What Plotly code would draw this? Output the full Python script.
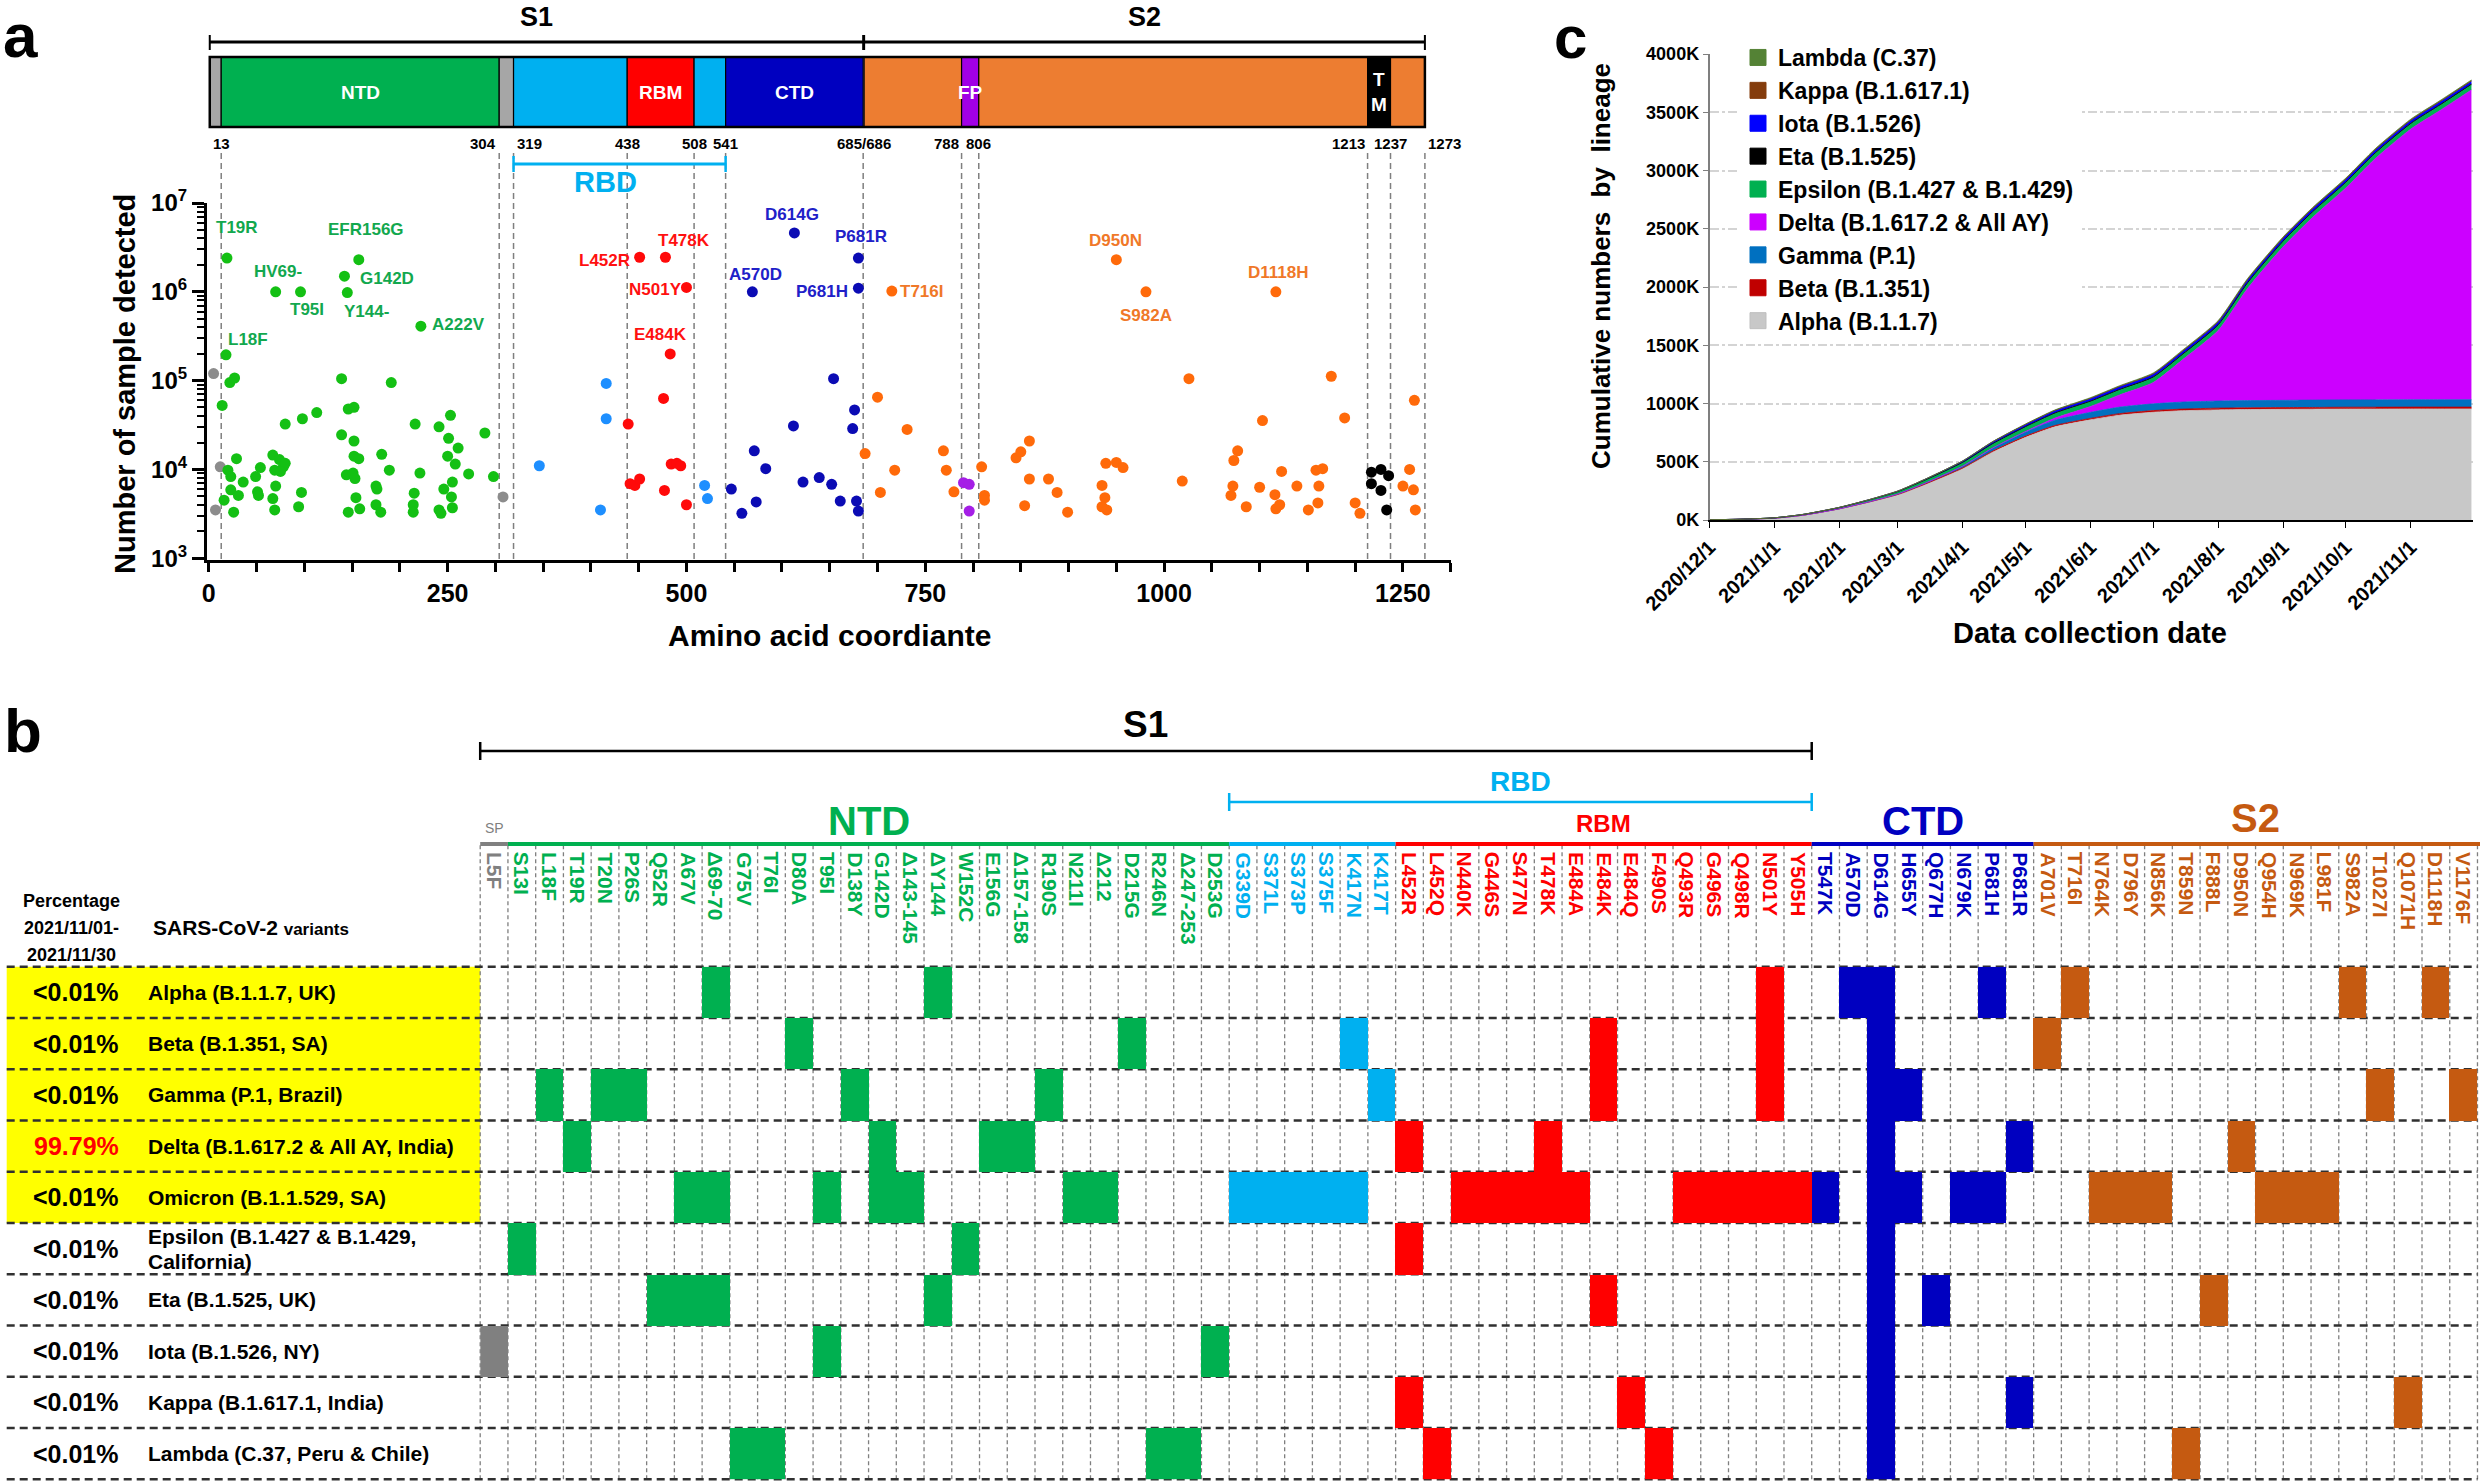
import math
import plotly.graph_objects as go

W, H = 2480, 1481
def X(px): return px / W
def Y(py): return 1 - py / H

SANS = "Liberation Sans, Arial, sans-serif"

# ====================== Panel a data ======================
domain_start = [1, 13, 304, 319, 438, 508, 541, 686, 788, 806, 1213, 1237]
domain_end   = [13, 304, 319, 438, 508, 541, 685, 788, 806, 1213, 1237, 1273]
domain_kind  = ["SP", "NTD", "SP", "RBD", "RBM", "RBD", "CTD", "S2", "FP", "S2", "TM", "S2"]
domain_label = ["", "NTD", "", "", "RBM", "", "CTD", "", "FP", "", "T<br>M", ""]
boundary_pos  = [13, 304, 319, 438, 508, 541, 685.5, 788, 806, 1213, 1237, 1273]
boundary_text = ["13", "304", "319", "438", "508", "541", "685/686", "788", "806", "1213", "1237", "1273"]
subunit_name  = ["S1", "S2"]
subunit_start = [1, 686]
subunit_end   = [685, 1273]
rbd_span = [319, 541]

sp_pos = [5, 12, 7, 308]
sp_cnt = [1.2e5, 1.07e4, 3.5e3, 4.9e3]
ntd_pos = [19, 18, 70, 96, 142, 145, 157, 222, 22, 27, 14, 16, 20, 23, 29, 23, 31, 26, 36, 49,
           54, 51, 52, 67, 69, 70, 67, 69, 74, 78, 80, 75, 80, 98, 113, 94, 97, 139, 146, 152,
           139, 152, 152, 157, 144, 151, 153, 154, 146, 158, 181, 175, 176, 175, 180, 191, 189,
           216, 215, 214, 214, 221, 241, 241, 243, 246, 253, 251, 250, 255, 254, 255, 258, 261,
           272, 289, 298]
ntd_cnt = [2.4e6, 1.95e5, 1.0e6, 1.0e6, 1.5e6, 9.8e5, 2.3e6, 4.1e5, 9.5e4, 1.07e5, 5.25e4, 4.5e3,
           9.8e3, 8.3e3, 1.32e4, 5.9e3, 5.1e3, 3.3e3, 7.2e3, 8.3e3, 1.05e4, 5.6e3, 5.1e3, 1.45e4,
           9.8e3, 6.5e3, 4.7e3, 3.5e3, 1.29e4, 1.07e4, 1.17e4, 9.5e3, 3.24e4, 3.72e4, 4.37e4, 3.8e3,
           5.5e3, 1.05e5, 4.79e4, 5.0e4, 2.45e4, 2.09e4, 1.41e4, 1.32e4, 8.7e3, 9.1e3, 7.9e3, 4.8e3,
           3.3e3, 3.6e3, 1.48e4, 6.5e3, 6.0e3, 4.0e3, 3.3e3, 9.5e4, 9.8e3, 3.24e4, 5.4e3, 4.0e3,
           3.3e3, 9.1e3, 3.02e4, 3.5e3, 3.2e3, 6.0e3, 4.07e4, 2.24e4, 1.41e4, 7.2e3, 4.9e3, 3.7e3,
           1.15e4, 1.74e4, 8.9e3, 2.57e4, 8.3e3]
rbd_pos = [346, 416, 416, 410, 519, 522]
rbd_cnt = [1.1e4, 9.3e4, 3.72e4, 3.5e3, 6.6e3, 4.7e3]
rbm_pos = [451, 478, 500, 483, 439, 476, 441, 446, 451, 477, 484, 490, 494, 500]
rbm_cnt = [2.45e6, 2.45e6, 1.12e6, 2.0e5, 3.24e4, 6.3e4, 6.9e3, 6.6e3, 7.8e3, 5.8e3, 1.15e4,
           1.17e4, 1.1e4, 4.0e3]
ctd_pos = [613, 680, 680, 569, 654, 676, 674, 612, 571, 583, 547, 558, 573, 622, 639, 652, 661, 678, 680]
ctd_cnt = [4.6e6, 2.4e6, 1.1e6, 1.0e6, 1.05e5, 4.68e4, 2.88e4, 3.09e4, 1.62e4, 1.02e4, 6.0e3,
           3.2e3, 4.3e3, 7.2e3, 8.1e3, 6.8e3, 4.4e3, 4.4e3, 3.4e3]
fp_pos = [790, 796, 796]
fp_cnt = [7.1e3, 6.8e3, 3.4e3]
s2_pos = [715, 950, 981, 1117, 700, 731, 687, 718, 703, 769, 772, 780, 809, 812, 812, 845, 850,
          859, 859, 854, 879, 888, 899, 935, 938, 935, 940, 939, 950, 957, 1019, 1026, 1070, 1072,
          1073, 1077, 1086, 1100, 1103, 1116, 1117, 1121, 1123, 1139, 1151, 1159, 1162, 1161, 1166,
          1175, 1189, 1200, 1205, 1250, 1257, 1261, 1263, 1262]
s2_cnt = [1.02e6, 2.3e6, 1.0e6, 1.0e6, 6.5e4, 2.82e4, 1.51e4, 9.8e3, 5.5e3, 1.62e4, 9.8e3, 5.6e3,
          1.07e4, 5.1e3, 4.5e3, 1.35e4, 1.58e4, 2.09e4, 7.8e3, 3.9e3, 7.8e3, 5.5e3, 3.3e3, 6.6e3,
          4.8e3, 3.8e3, 3.5e3, 1.17e4, 1.2e4, 1.05e4, 7.4e3, 1.05e5, 5.1e3, 6.5e3, 1.26e4, 1.62e4,
          3.8e3, 6.3e3, 3.55e4, 5.2e3, 3.6e3, 4.0e3, 9.5e3, 6.5e3, 3.5e3, 9.8e3, 6.5e3, 4.2e3,
          1.02e4, 1.12e5, 3.8e4, 4.2e3, 3.2e3, 6.5e3, 1.0e4, 5.9e3, 3.5e3, 6.0e4]
tm_pos = [1217, 1227, 1235, 1217, 1227, 1233]
tm_cnt = [9.3e3, 1.0e4, 8.5e3, 6.9e3, 5.8e3, 3.5e3]

mut_label = ["T19R", "L18F", "HV69-", "T95I", "G142D", "Y144-", "EFR156G", "A222V",
             "L452R", "T478K", "N501Y", "E484K", "D614G", "P681R", "A570D", "P681H",
             "T716I", "D950N", "S982A", "D1118H"]
mut_region = ["NTD"] * 8 + ["RBM"] * 4 + ["CTD"] * 4 + ["S2"] * 4
mut_x = [19, 18, 70, 96, 142, 145, 157, 222, 451, 478, 500, 483, 613, 680, 569, 680, 715, 950, 981, 1117]
mut_cnt = [2.4e6, 1.95e5, 1.0e6, 1.0e6, 1.5e6, 9.8e5, 2.3e6, 4.1e5, 2.45e6, 2.45e6, 1.12e6, 2.0e5,
           4.6e6, 2.4e6, 1.0e6, 1.1e6, 1.02e6, 2.3e6, 1.0e6, 1.0e6]

# ====================== Panel b data ======================
group_names = ["SP", "NTD", "RBD", "RBM", "CTD", "S2"]
group_sizes = [1, 26, 6, 15, 8, 16]
mutations = ["L5F",
             "S13I", "L18F", "T19R", "T20N", "P26S", "Q52R", "A67V", "Δ69-70", "G75V", "T76I", "D80A",
             "T95I", "D138Y", "G142D", "Δ143-145", "ΔY144", "W152C", "E156G", "Δ157-158", "R190S",
             "N211I", "Δ212", "D215G", "R246N", "Δ247-253", "D253G",
             "G339D", "S371L", "S373P", "S375F", "K417N", "K417T",
             "L452R", "L452Q", "N440K", "G446S", "S477N", "T478K", "E484A", "E484K", "E484Q", "F490S",
             "Q493R", "G496S", "Q498R", "N501Y", "Y505H",
             "T547K", "A570D", "D614G", "H655Y", "Q677H", "N679K", "P681H", "P681R",
             "A701V", "T716I", "N764K", "D796Y", "N856K", "T859N", "F888L", "D950N", "Q954H", "N969K",
             "L981F", "S982A", "T1027I", "Q1071H", "D1118H", "V1176F"]
variant_names = ["Alpha (B.1.1.7, UK)", "Beta (B.1.351, SA)", "Gamma (P.1, Brazil)",
                 "Delta (B.1.617.2 & All AY, India)", "Omicron (B.1.1.529, SA)",
                 "Epsilon (B.1.427 & B.1.429,\nCalifornia)", "Eta (B.1.525, UK)", "Iota (B.1.526, NY)",
                 "Kappa (B.1.617.1, India)", "Lambda (C.37, Peru & Chile)"]
variant_pct = ["<0.01%", "<0.01%", "<0.01%", "99.79%", "<0.01%", "<0.01%", "<0.01%", "<0.01%",
               "<0.01%", "<0.01%"]
variant_of_concern = [True, True, True, True, True, False, False, False, False, False]
variant_mutations = [
    ["Δ69-70", "ΔY144", "N501Y", "A570D", "D614G", "P681H", "T716I", "S982A", "D1118H"],
    ["D80A", "D215G", "K417N", "E484K", "N501Y", "D614G", "A701V"],
    ["L18F", "T20N", "P26S", "D138Y", "R190S", "K417T", "E484K", "N501Y", "D614G", "H655Y",
     "T1027I", "V1176F"],
    ["T19R", "G142D", "E156G", "Δ157-158", "L452R", "T478K", "D614G", "P681R", "D950N"],
    ["A67V", "Δ69-70", "T95I", "G142D", "Δ143-145", "N211I", "Δ212", "G339D", "S371L", "S373P",
     "S375F", "K417N", "N440K", "G446S", "S477N", "T478K", "E484A", "Q493R", "G496S", "Q498R",
     "N501Y", "Y505H", "T547K", "D614G", "H655Y", "N679K", "P681H", "N764K", "D796Y", "N856K",
     "Q954H", "N969K", "L981F"],
    ["S13I", "W152C", "L452R", "D614G"],
    ["Q52R", "A67V", "Δ69-70", "ΔY144", "E484K", "D614G", "Q677H", "F888L"],
    ["L5F", "T95I", "D253G", "D614G"],
    ["L452R", "E484Q", "D614G", "P681R", "Q1071H"],
    ["G75V", "T76I", "R246N", "Δ247-253", "L452Q", "F490S", "D614G", "T859N"],
]

# ====================== Panel c data (cumulative, thousands) ======================
dates = ["2020-12-01", "2020-12-15", "2021-01-01", "2021-01-15", "2021-02-01", "2021-02-15",
         "2021-03-01", "2021-03-15", "2021-04-01", "2021-04-15", "2021-05-01", "2021-05-15",
         "2021-06-01", "2021-06-15", "2021-07-01", "2021-07-15", "2021-08-01", "2021-08-15",
         "2021-09-01", "2021-09-15", "2021-10-01", "2021-10-15", "2021-11-01", "2021-11-15",
         "2021-11-30"]
lineages = ["Alpha (B.1.1.7)", "Beta (B.1.351)", "Gamma (P.1)", "Delta (B.1.617.2 & All AY)",
            "Epsilon (B.1.427 & B.1.429)", "Eta (B.1.525)", "Iota (B.1.526)", "Kappa (B.1.617.1)",
            "Lambda (C.37)"]
alpha_k   = [2, 5, 15, 40, 93, 150, 215, 310, 440, 580, 710, 800, 860, 900, 925, 938, 945, 948, 950, 951, 952, 952, 953, 953, 953]
beta_k    = [0.5, 0.8, 1, 2, 3, 4, 5, 6, 8, 9, 10, 11, 12, 13, 14, 14, 15, 15, 15, 15, 16, 16, 16, 16, 16]
gamma_k   = [0, 0, 0, 0.5, 1, 2, 4, 8, 15, 25, 35, 45, 52, 56, 58, 60, 61, 62, 62, 63, 63, 63, 63, 63, 63]
delta_k   = [0, 0, 0, 0, 0, 0, 0, 0, 0, 1, 5, 18, 50, 105, 183, 363, 605, 961, 1317, 1566, 1819, 2070, 2323, 2483, 2660]
epsilon_k = [0, 0.5, 3, 6, 10, 15, 20, 25, 30, 34, 37, 39, 40, 41, 41, 41, 42, 42, 42, 42, 42, 42, 42, 42, 42]
eta_k     = [0, 0, 0, 0, 0.2, 0.5, 1, 2, 3, 4, 5, 6, 7, 7, 8, 8, 8, 8, 8, 8, 8, 8, 8, 8, 8]
iota_k    = [0, 0, 0, 0.5, 1, 2, 4, 7, 11, 15, 18, 20, 22, 23, 24, 24, 25, 25, 25, 25, 25, 25, 25, 25, 25]
kappa_k   = [0, 0, 0, 0, 0, 0, 0, 0, 0.1, 0.5, 1, 1.5, 2, 2, 2, 2, 2, 2, 2, 2, 2, 2, 2, 2, 2]
lambda_k  = [0, 0, 0, 0, 0, 0, 0.2, 0.5, 1, 2, 3, 4, 5, 6, 7, 8, 8, 8, 8, 8, 8, 8, 8, 8, 8]
lineage_values = [alpha_k, beta_k, gamma_k, delta_k, epsilon_k, eta_k, iota_k, kappa_k, lambda_k]

# ====================== styles ======================
BAR_COL = {"SP": "#a6a6a6", "NTD": "#00b050", "RBD": "#00b0f0", "RBM": "#ff0000", "CTD": "#0000c0",
           "S2": "#ed7d31", "FP": "#a100e6", "TM": "#000000"}
PT_COL = {"SP": "#8c8c8c", "NTD": "#14c014", "RBD": "#1e8fff", "RBM": "#ff0a0a", "CTD": "#0b0bb4",
          "FP": "#a51ee6", "S2": "#ff6a0a", "TM": "#000000"}
LAB_COL = {"NTD": "#12a84e", "RBM": "#ff1010", "CTD": "#2020c8", "S2": "#f07828"}
HM_COL = {"SP": "#808080", "NTD": "#00b050", "RBD": "#00b0f0", "RBM": "#ff0000", "CTD": "#0000c0",
          "S2": "#c55a11"}
LIN_COL = ["#c8c8c8", "#c00000", "#0070c0", "#cc00ff", "#00b050", "#000000", "#0000ff", "#843c0c", "#548235"]
LAB_OFF = {"T19R": (10, -31), "L18F": (22, -15), "HV69-": (2, -20), "T95I": (6, 18), "G142D": (43, 2),
           "Y144-": (19, 19), "EFR156G": (7, -30), "A222V": (38, -2), "L452R": (-35, 3),
           "T478K": (19, -17), "N501Y": (-31, 2), "E484K": (-10, -19), "D614G": (-2, -18),
           "P681R": (3, -22), "A570D": (3, -17), "P681H": (-36, 3), "T716I": (30, 0),
           "D950N": (-1, -19), "S982A": (0, 24), "D1118H": (3, -19)}

AX0, AXS = 208.8, 0.9553
def apx(aa): return AX0 + aa * AXS
BAR_T, BAR_B = 57, 127

COL0, COLW = 480.2, 27.74
ROW0, ROWH = 966.7, 51.25
NC, NR = len(mutations), len(variant_names)
def cpx(j): return COL0 + j * COLW
def rpx(i): return ROW0 + i * ROWH

fig = go.Figure()
shapes, annotations = [], []

def F(size, color="black", bold=True):
    return dict(family=SANS, size=size, color=color, weight="bold" if bold else "normal")

def ann(text, xp, yp, size, color="black", bold=True, **kw):
    d = dict(text=text, x=X(xp), y=Y(yp), xref="paper", yref="paper", showarrow=False,
             xanchor="center", yanchor="middle", font=F(size, color, bold))
    d.update(kw)
    annotations.append(d)

# ---------------- Panel a ----------------
point_sets = [("SP", sp_pos, sp_cnt), ("NTD", ntd_pos, ntd_cnt), ("RBD", rbd_pos, rbd_cnt),
              ("RBM", rbm_pos, rbm_cnt), ("CTD", ctd_pos, ctd_cnt), ("FP", fp_pos, fp_cnt),
              ("S2", s2_pos, s2_cnt), ("TM", tm_pos, tm_cnt)]
for kind, xs, ys in point_sets:
    fig.add_trace(go.Scatter(x=xs, y=ys, mode="markers", xaxis="x", yaxis="y", showlegend=False,
                             marker=dict(size=11, color=PT_COL[kind], line=dict(width=0)),
                             hoverinfo="skip", cliponaxis=False))

for name, reg, mx, mc in zip(mut_label, mut_region, mut_x, mut_cnt):
    ox, oy = LAB_OFF[name]
    annotations.append(dict(text=name, x=mx, y=math.log10(mc), xref="x", yref="y", showarrow=False,
                            xanchor="center", yanchor="middle", xshift=ox, yshift=-oy,
                            font=F(17, LAB_COL[reg])))

for s, e, k, lab in zip(domain_start, domain_end, domain_kind, domain_label):
    shapes.append(dict(type="rect", xref="x", yref="paper", x0=s, x1=e, y0=Y(BAR_B), y1=Y(BAR_T),
                       fillcolor=BAR_COL[k], line=dict(color="black", width=1.2), layer="above"))
    if lab:
        annotations.append(dict(text=lab, x=(s + e) / 2, y=Y((BAR_T + BAR_B) / 2), xref="x", yref="paper",
                                showarrow=False, xanchor="center", yanchor="middle", font=F(19, "white")))
shapes.append(dict(type="rect", xref="x", yref="paper", x0=domain_start[0], x1=domain_end[-1],
                   y0=Y(BAR_B), y1=Y(BAR_T), line=dict(color="black", width=2.5), layer="above"))
for n, s, e in zip(subunit_name, subunit_start, subunit_end):
    shapes.append(dict(type="line", xref="x", yref="paper", x0=s, x1=e, y0=Y(42), y1=Y(42),
                       line=dict(color="black", width=3)))
    for xx in (s, e):
        shapes.append(dict(type="line", xref="x", yref="paper", x0=xx, x1=xx, y0=Y(35), y1=Y(50),
                           line=dict(color="black", width=2)))
    annotations.append(dict(text=n, x=(s + e) / 2, y=Y(17), xref="x", yref="paper", showarrow=False,
                            xanchor="center", yanchor="middle", font=F(27)))
shapes.append(dict(type="line", xref="x", yref="paper", x0=rbd_span[0], x1=rbd_span[1], y0=Y(164), y1=Y(164),
                   line=dict(color="#00b0f0", width=3)))
for xx in rbd_span:
    shapes.append(dict(type="line", xref="x", yref="paper", x0=xx, x1=xx, y0=Y(156), y1=Y(172),
                       line=dict(color="#00b0f0", width=2.5)))
annotations.append(dict(text="RBD", x=(rbd_span[0] + rbd_span[1]) / 2, y=Y(182), xref="x", yref="paper",
                        showarrow=False, xanchor="center", yanchor="middle", xshift=-14,
                        font=F(29, "#00b0f0")))
TICK_ANCHOR = {"304": "right", "319": "left", "788": "right", "1213": "right", "1273": "left"}
for p, t in zip(boundary_pos, boundary_text):
    anc = TICK_ANCHOR.get(t, "center")
    shift = {"right": -1, "left": 1, "center": 0}[anc]
    annotations.append(dict(text=t, x=p, y=Y(143), xref="x", yref="paper", showarrow=False,
                            xanchor=anc, yanchor="middle", xshift=shift, font=F(15)))
for e in domain_end:
    shapes.append(dict(type="line", xref="x", yref="paper", x0=e, x1=e, y0=Y(559), y1=Y(153),
                       line=dict(color="#7f7f7f", width=1.5, dash="6px,4px"), layer="below"))

ann("Number of sample detected", 125, 384, 29, textangle=-90)
ann("Amino acid coordiante", 829, 635, 30)
ann("a", 20, 36, 62)

# ---------------- Panel c ----------------
for name, vals, col in zip(lineages, lineage_values, LIN_COL):
    fig.add_trace(go.Scatter(x=dates, y=vals, name=name, stackgroup="c", mode="lines",
                             line=dict(color=col, width=0.8, shape="spline", smoothing=0.6),
                             fillcolor=col, xaxis="x2", yaxis="y2", hoverinfo="skip",
                             showlegend=False, legendgroup=name))
for name, col in zip(lineages, LIN_COL):
    fig.add_trace(go.Scatter(x=[None], y=[None], name=name, mode="markers", xaxis="x2", yaxis="y2",
                             marker=dict(symbol="square", size=20, color=col,
                                         line=dict(color="#bfbfbf" if col == "#c8c8c8" else col, width=1)),
                             legendgroup=name, hoverinfo="skip"))
ann("Cumulative numbers  by  lineage", 1601, 266, 26, textangle=-90)
ann("Data collection date", 2090, 633, 29)
ann("c", 1570, 38, 60)

# ---------------- Panel b ----------------
code = {g: i for i, g in enumerate(group_names)}
col_group = []
for g, n in zip(group_names, group_sizes):
    col_group += [g] * n
z = []
for muts in variant_mutations:
    z.append([code[col_group[j]] if mutations[j] in muts else None for j in range(NC)])
cs = []
for i, g in enumerate(group_names):
    cs += [[i / len(group_names), HM_COL[g]], [(i + 1) / len(group_names), HM_COL[g]]]
fig.add_trace(go.Heatmap(z=z, x=list(range(NC)), y=list(range(NR)), colorscale=cs, zmin=-0.5,
                         zmax=len(group_names) - 0.5, showscale=False, xaxis="x3", yaxis="y3",
                         hoverinfo="skip", xgap=0, ygap=0))

voc_rows = [i for i, v in enumerate(variant_of_concern) if v]
shapes.append(dict(type="rect", xref="paper", yref="paper", x0=X(6.7), x1=X(COL0),
                   y0=Y(rpx(max(voc_rows) + 1)), y1=Y(rpx(min(voc_rows))),
                   fillcolor="#ffff00", line=dict(width=0), layer="below"))
for j in range(NC + 1):
    shapes.append(dict(type="line", xref="paper", yref="paper", x0=X(cpx(j)), x1=X(cpx(j)),
                       y0=Y(rpx(NR)), y1=Y(844), line=dict(color="#7f7f7f", width=1.3, dash="4px,3px"),
                       layer="below"))
for i in range(NR + 1):
    shapes.append(dict(type="line", xref="paper", yref="paper", x0=X(6.7), x1=X(cpx(NC)),
                       y0=Y(rpx(i)), y1=Y(rpx(i)), line=dict(color="#303030", width=2.5, dash="8px,5px"),
                       layer="below"))
GROUP_LAB = {"SP": (14, 828), "NTD": (40, 821), "RBD": None, "RBM": (24, 824), "CTD": (40, 821), "S2": (40, 818)}
start = 0
for g, n in zip(group_names, group_sizes):
    x1 = cpx(start + n) if start + n < NC else W
    shapes.append(dict(type="line", xref="paper", yref="paper", x0=X(cpx(start)), x1=X(x1),
                       y0=Y(844), y1=Y(844), line=dict(color=HM_COL[g], width=4)))
    if GROUP_LAB[g]:
        sz, yy = GROUP_LAB[g]
        ann(g, (cpx(start) + cpx(start + n)) / 2, yy, sz, HM_COL[g], bold=(g != "SP"))
    start += n
s1_end = sum(group_sizes[:4])
rbd_start = sum(group_sizes[:2])
for (a, b, yy, col, lab, sz, ly) in [(0, s1_end, 751, "black", "S1", 37, 724),
                                      (rbd_start, s1_end, 802, "#00b0f0", "RBD", 28, 781)]:
    shapes.append(dict(type="line", xref="paper", yref="paper", x0=X(cpx(a)), x1=X(cpx(b)),
                       y0=Y(yy), y1=Y(yy), line=dict(color=col, width=2.5)))
    for xx in (cpx(a), cpx(b)):
        shapes.append(dict(type="line", xref="paper", yref="paper", x0=X(xx), x1=X(xx),
                           y0=Y(yy - 9), y1=Y(yy + 9), line=dict(color=col, width=2.5)))
    ann(lab, (cpx(a) + cpx(b)) / 2, ly, sz, col)
for j, m in enumerate(mutations):
    ann(m, cpx(j) + COLW / 2, 850, 21, HM_COL[col_group[j]], textangle=90, yanchor="top")
for i, (nm, pct) in enumerate(zip(variant_names, variant_pct)):
    yc = rpx(i) + ROWH / 2
    ann(pct, 76, yc, 25, "#ff0000" if pct != "<0.01%" else "black")
    lines = nm.split("\n")
    for k, ln in enumerate(lines):
        off = (k - (len(lines) - 1) / 2) * 25
        ann(ln, 146, yc + off, 21, xanchor="left")
ann("Percentage", 71, 901, 18)
ann("2021/11/01-", 71, 928, 18)
ann("2021/11/30", 71, 955, 18)
ann("SARS-CoV-2 <span style='font-size:17px'>variants</span>", 151, 927, 21, xanchor="left")
ann("b", 23, 730, 62)

# ---------------- Layout ----------------
minor_y = [m * 10 ** e for e in range(3, 7) for m in range(2, 10)]
fig.update_layout(
    width=W, height=H, autosize=False, margin=dict(l=0, r=0, t=0, b=0, pad=0, autoexpand=False),
    paper_bgcolor="white", plot_bgcolor="rgba(0,0,0,0)",
    shapes=shapes, annotations=annotations,
    xaxis=dict(domain=[X(apx(-2)), X(apx(1300))], range=[-2, 1300], anchor="y",
               showline=True, linecolor="black", linewidth=3, showgrid=False, zeroline=False,
               ticks="outside", ticklen=9, tickwidth=2.5, tickcolor="black",
               tickvals=[0, 250, 500, 750, 1000, 1250], tickfont=F(25),
               minor=dict(dtick=50, tick0=0, ticks="outside", ticklen=9, tickwidth=2.5, tickcolor="black")),
    yaxis=dict(type="log", domain=[Y(560), Y(203)], range=[2.98, 7.0], anchor="x",
               showline=True, linecolor="black", linewidth=3, showgrid=False, zeroline=False,
               ticks="outside", ticklen=12, tickwidth=3, tickcolor="black",
               tickvals=[1e3, 1e4, 1e5, 1e6, 1e7],
               ticktext=["10<sup>3</sup>", "10<sup>4</sup>", "10<sup>5</sup>", "10<sup>6</sup>", "10<sup>7</sup>"],
               tickfont=F(24),
               minor=dict(tickvals=minor_y, ticks="outside", ticklen=7, tickwidth=2, tickcolor="black")),
    xaxis2=dict(type="date", domain=[X(1709.5), X(2473)], range=["2020-12-01", "2021-11-30 18:00"],
                anchor="y2", showline=True, linecolor="black", linewidth=1.5, showgrid=False,
                ticks="outside", ticklen=6, tickcolor="black", dtick="M1", tick0="2020-12-01",
                tickformat="%Y/%-m/%-d", tickangle=-45, tickfont=F(20)),
    yaxis2=dict(domain=[Y(520), Y(54)], range=[0, 4000], anchor="x2", dtick=500, ticksuffix="K",
                showline=True, linecolor="#7f7f7f", linewidth=1.5, ticks="outside", ticklen=5,
                tickcolor="#7f7f7f", showgrid=True, gridcolor="#d4d4d4", gridwidth=1.5,
                griddash="dashdot", zeroline=False, tickfont=F(18)),
    xaxis3=dict(domain=[X(cpx(0)), X(cpx(NC))], range=[-0.5, NC - 0.5], anchor="y3", visible=False),
    yaxis3=dict(domain=[Y(rpx(NR)), Y(rpx(0))], range=[NR - 0.5, -0.5], anchor="x3", visible=False),
    legend=dict(x=X(1738), y=Y(36), xanchor="left", yanchor="top", traceorder="reversed",
                bgcolor="white", font=F(23), itemwidth=30, tracegroupgap=0, itemsizing="trace"),
)

fig.write_html("out.html", config={"displayModeBar": False},
               post_script="document.body.style.margin='0';document.body.style.overflow='hidden';")
